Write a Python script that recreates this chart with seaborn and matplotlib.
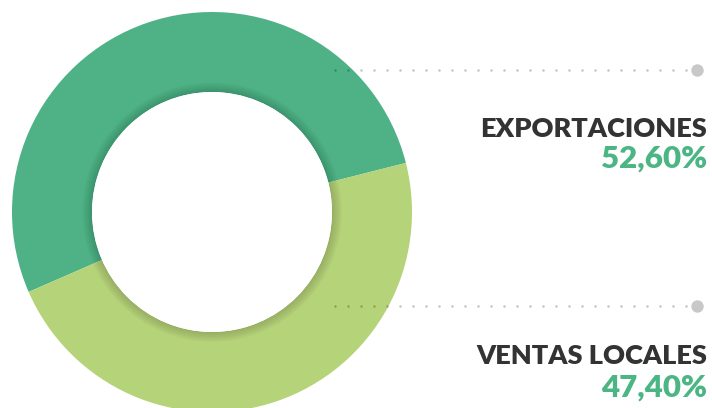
import matplotlib
matplotlib.use("Agg")
import matplotlib.pyplot as plt
from matplotlib.patches import Circle, Wedge
import seaborn as sns

# data
labels = ["EXPORTACIONES", "VENTAS LOCALES"]
pct_text = ["52,60%", "47,40%"]
values = [52.6, 47.4]
colors = ["#4fb286", "#b5d378"]

sns.set_theme(style="white")
plt.rcParams['font.family'] = ['Lato', 'DejaVu Sans']

fig = plt.figure(figsize=(7.12, 4.08), dpi=100)
ax = fig.add_axes([0, 0, 1, 1])
ax.set_xlim(0, 712)
ax.set_ylim(0, 408)
ax.set_aspect('equal')
ax.axis('off')

cx, cy = 212, 196
r_out, r_in = 200, 120

ax.pie(values, colors=colors, startangle=14.2, counterclock=True,
       radius=r_out, center=(cx, cy),
       wedgeprops=dict(width=r_out - r_in, linewidth=0))
ax.set_xlim(0, 712)
ax.set_ylim(0, 408)

# soft shadow on the inner edge of the ring
for k in range(10):
    ax.add_patch(Wedge((cx, cy), r_in + 10 - k, 0, 360, width=10 - k,
                       facecolor='black', alpha=0.016, linewidth=0, zorder=3))
ax.add_patch(Circle((cx, cy), r_in, facecolor='white', linewidth=0, zorder=4))

# leader lines + labels
line_y = [338, 102]
name_y = [271, 44]
pct_y = [240, 11]
for i in range(len(labels)):
    xs = list(range(335, 690, 13))
    ax.scatter(xs, [line_y[i]] * len(xs), s=3, color='black', alpha=0.25,
               linewidths=0, zorder=5)
    ax.scatter([697], [line_y[i]], s=80, color='#c8c8c8', linewidths=0, zorder=5)
    ax.text(707, name_y[i], labels[i], ha='right', va='baseline',
            fontsize=19.5, fontweight='heavy', color='#333333', zorder=6)
    ax.text(707, pct_y[i], pct_text[i], ha='right', va='baseline',
            fontsize=22.5, fontweight='heavy', color='#4cb584', zorder=6)

fig.savefig("out.png", dpi=100)
